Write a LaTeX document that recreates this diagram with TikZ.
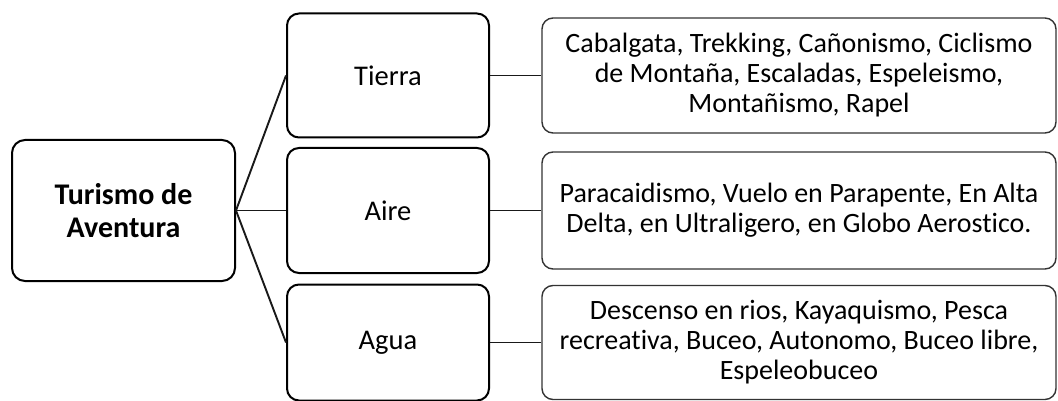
\documentclass[tikz,border=0pt]{standalone}
\usepackage{fontspec}
\setmainfont{Carlito}[Ligatures=NoCommon]
\begin{document}
\begin{tikzpicture}[x=1pt,y=-1pt,
  mainbox/.style={draw=black,line width=2pt,rounded corners=13pt,inner sep=0pt,align=center},
  catbox/.style={draw=black,line width=2pt,rounded corners=12pt,inner sep=0pt,align=center,
     minimum width=202pt,font=\fontsize{28.5}{31}\selectfont},
  listbox/.style={draw=black!80,line width=1.4pt,rounded corners=11pt,inner sep=0pt,align=center,
     minimum width=514pt,font=\fontsize{28}{30}\selectfont},
  link/.style={draw=black!90,line width=1.9pt}]
\useasboundingbox (0,0) rectangle (1058,401);
\fill[white] (0,0) rectangle (1058,401);
\node[mainbox,minimum width=223pt,minimum height=141pt,font=\bfseries\fontsize{30}{33}\selectfont]
  (root) at (123.5,210.5) {Turismo de\\Aventura};
\node[catbox,minimum height=124pt] (tierra) at (388,75.5) {Tierra};
\node[catbox,minimum height=125pt] (aire) at (388,210.5) {Aire};
\node[catbox,minimum height=116pt] (agua) at (388,342.5) {Agua};
\node[listbox,minimum height=115pt] (l1) at (799,75.5)
  {Cabalgata, Trekking, Cañonismo, Ciclismo\\de Montaña, Escaladas, Espeleismo,\\Montañismo, Rapel};
\node[listbox,minimum height=117pt] (l2) at (799,210.5)
  {Paracaidismo, Vuelo en Parapente, En Alta\\Delta, en Ultraligero, en Globo Aerostico.};
\node[listbox,minimum height=114pt] (l3) at (799,342.5)
  {Descenso en rios, Kayaquismo, Pesca\\recreativa, Buceo, Autonomo, Buceo libre,\\Espeleobuceo};
\draw[link] (root.east) -- (tierra.west);
\draw[link] (root.east) -- (aire.west);
\draw[link] (root.east) -- (agua.west);
\draw[link] (tierra.east) -- (l1.west);
\draw[link] (aire.east) -- (l2.west);
\draw[link] (agua.east) -- (l3.west);
\end{tikzpicture}
\end{document}
